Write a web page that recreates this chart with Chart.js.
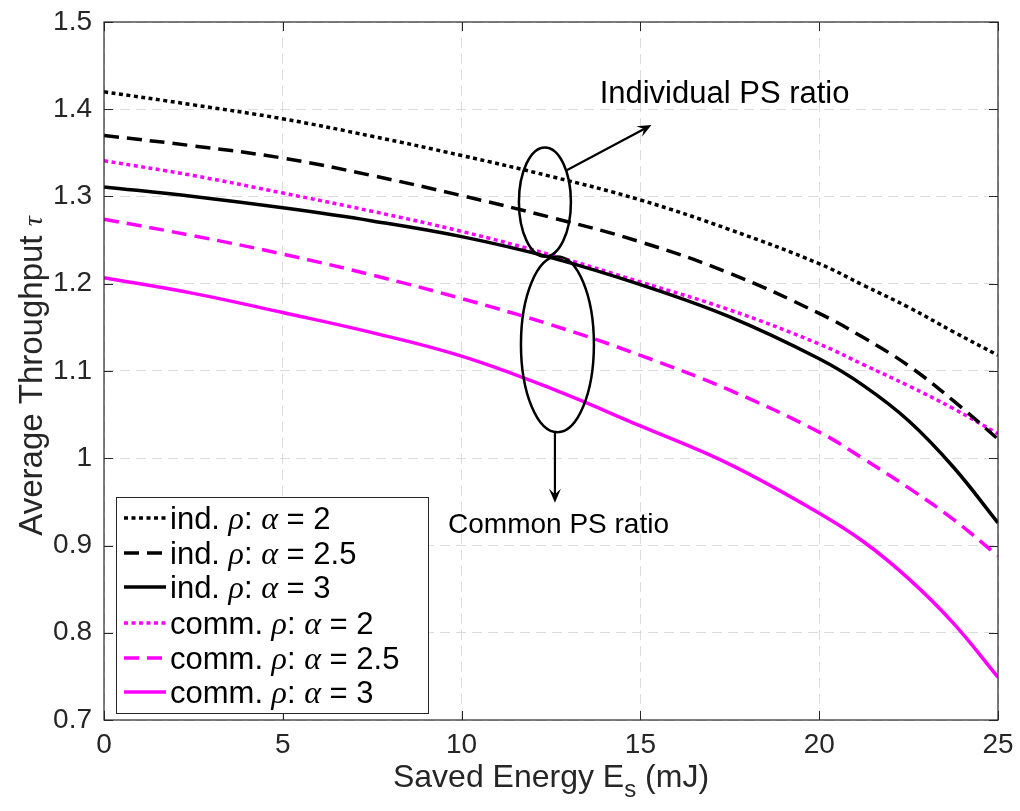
<!DOCTYPE html>
<html>
<head>
<meta charset="utf-8">
<script src="https://cdn.jsdelivr.net/npm/chart.js@4.4.0/dist/chart.umd.min.js"></script>
<style>
  html, body { margin: 0; padding: 0; background: #fff; }
  #wrap { width: 1020px; height: 811px; }
</style>
</head>
<body>
<div id="wrap"><canvas id="tputChart" width="1020" height="811"></canvas></div>
<script>
// saved energy (mJ) sample points
const energy = [0, 2.5, 5, 7.5, 10, 12.5, 15, 17.5, 20, 21.25, 22.5, 23.75, 25];

// individual PS ratio
const indA2   = [1.420, 1.405, 1.389, 1.369, 1.347, 1.323, 1.296, 1.262, 1.223, 1.198, 1.173, 1.145, 1.118];
const indA25  = [1.370, 1.358, 1.344, 1.324, 1.301, 1.276, 1.248, 1.212, 1.166, 1.138, 1.106, 1.066, 1.022];
const indA3   = [1.311, 1.300, 1.287, 1.272, 1.254, 1.230, 1.199, 1.162, 1.114, 1.083, 1.043, 0.990, 0.926];
// common PS ratio
const commA2  = [1.341, 1.324, 1.304, 1.283, 1.260, 1.233, 1.202, 1.170, 1.131, 1.107, 1.083, 1.057, 1.028];
const commA25 = [1.274, 1.255, 1.234, 1.210, 1.183, 1.153, 1.118, 1.078, 1.030, 0.999, 0.966, 0.930, 0.888];
const commA3  = [1.207, 1.189, 1.167, 1.144, 1.117, 1.080, 1.037, 0.993, 0.937, 0.904, 0.862, 0.811, 0.749];

const xTicks = [0, 5, 10, 15, 20, 25];
const yTicks = [0.7, 0.8, 0.9, 1.0, 1.1, 1.2, 1.3, 1.4, 1.5];

const SANS = '"Liberation Sans", Arial, Helvetica, sans-serif';
const SERIF = '"Liberation Serif", "DejaVu Serif", serif';
const MAGENTA = '#ff00ff';
const DOT = [4, 3.5];
const DASH = [15, 8];

function pts(ys) {
  return energy.map((x, i) => ({ x: x, y: ys[i] }));
}

function series(label, ys, color, dash, alpha) {
  return {
    label: label,
    alpha: alpha,
    data: pts(ys),
    borderColor: color,
    backgroundColor: color,
    borderWidth: 3.5,
    borderDash: dash,
    borderCapStyle: 'butt',
    pointRadius: 0,
    fill: false,
    tension: 0.4
  };
}

const datasets = [
  series('ind.', indA2, '#000', DOT, '2'),
  series('ind.', indA25, '#000', DASH, '2.5'),
  series('ind.', indA3, '#000', [], '3'),
  series('comm.', commA2, MAGENTA, DOT, '2'),
  series('comm.', commA25, MAGENTA, DASH, '2.5'),
  series('comm.', commA3, MAGENTA, [], '3')
];

// draw a run of differently styled text pieces; returns total width
function richText(ctx, parts, x, y, align) {
  let total = 0;
  parts.forEach(p => { ctx.font = p.font; total += ctx.measureText(p.t).width; });
  let cx = align === 'center' ? x - total / 2 : x;
  ctx.textBaseline = 'alphabetic';
  ctx.textAlign = 'left';
  parts.forEach(p => {
    ctx.font = p.font;
    ctx.fillText(p.t, cx, y + (p.dy || 0));
    cx += ctx.measureText(p.t).width;
  });
  return total;
}

function arrow(ctx, x1, y1, x2, y2) {
  const ang = Math.atan2(y2 - y1, x2 - x1);
  const L = 14, W = 6;
  ctx.beginPath();
  ctx.moveTo(x1, y1);
  ctx.lineTo(x2 - Math.cos(ang) * L * 0.6, y2 - Math.sin(ang) * L * 0.6);
  ctx.stroke();
  ctx.beginPath();
  ctx.moveTo(x2, y2);
  ctx.lineTo(x2 - L * Math.cos(ang) + W * Math.sin(ang), y2 - L * Math.sin(ang) - W * Math.cos(ang));
  ctx.lineTo(x2 - L * 0.6 * Math.cos(ang), y2 - L * 0.6 * Math.sin(ang));
  ctx.lineTo(x2 - L * Math.cos(ang) - W * Math.sin(ang), y2 - L * Math.sin(ang) + W * Math.cos(ang));
  ctx.closePath();
  ctx.fill();
}

const figureDecor = {
  id: 'figureDecor',
  beforeDatasetsDraw(chart) {
    const ctx = chart.ctx;
    const a = chart.chartArea;
    const xs = chart.scales.x, ys = chart.scales.y;
    ctx.save();
    // inward tick marks on all four sides
    ctx.strokeStyle = '#262626';
    ctx.lineWidth = 1;
    ctx.setLineDash([]);
    const tl = 9;
    xTicks.forEach(v => {
      const px = Math.round(xs.getPixelForValue(v)) + 0.5;
      ctx.beginPath();
      ctx.moveTo(px, a.bottom); ctx.lineTo(px, a.bottom - tl);
      ctx.moveTo(px, a.top); ctx.lineTo(px, a.top + tl);
      ctx.stroke();
    });
    yTicks.forEach(v => {
      const py = Math.round(ys.getPixelForValue(v)) + 0.5;
      ctx.beginPath();
      ctx.moveTo(a.left, py); ctx.lineTo(a.left + tl, py);
      ctx.moveTo(a.right, py); ctx.lineTo(a.right - tl, py);
      ctx.stroke();
    });
    ctx.restore();
  },
  afterDatasetsDraw(chart) {
    const ctx = chart.ctx;
    const a = chart.chartArea;
    const xs = chart.scales.x, ys = chart.scales.y;
    const X = v => xs.getPixelForValue(v);
    const Y = v => ys.getPixelForValue(v);
    ctx.save();

    // axes box
    ctx.strokeStyle = '#262626';
    ctx.lineWidth = 1.2;
    ctx.setLineDash([]);
    ctx.strokeRect(a.left, a.top, a.right - a.left, a.bottom - a.top);

    // grouping ellipses and arrows
    ctx.strokeStyle = '#000';
    ctx.fillStyle = '#000';
    ctx.lineWidth = 2.5;
    ctx.beginPath();
    ctx.ellipse(X(12.33), Y(1.2937), X(12.33 + 0.727) - X(12.33), Y(1.2937) - Y(1.2937 + 0.0626), 0, 0, Math.PI * 2);
    ctx.stroke();
    ctx.beginPath();
    ctx.ellipse(X(12.68), Y(1.1305), X(12.68 + 1.02) - X(12.68), Y(1.1305) - Y(1.1305 + 0.1006), 0, 0, Math.PI * 2);
    ctx.stroke();
    ctx.lineWidth = 2.2;
    arrow(ctx, X(12.94), Y(1.330), X(15.31), Y(1.382));
    arrow(ctx, X(12.61), Y(1.030), X(12.61), Y(0.949));

    richText(ctx, [{ t: 'Individual PS ratio', font: '31px ' + SANS }], X(13.86), Y(1.416) + 8, 'left');
    richText(ctx, [{ t: 'Common PS ratio', font: '28px ' + SANS }], X(9.62), Y(0.926) + 10, 'left');

    // legend
    const lx = 116, ly = 497, lw = 312, lh = 216;
    ctx.fillStyle = '#fff';
    ctx.fillRect(lx, ly, lw, lh);
    ctx.strokeStyle = '#262626';
    ctx.lineWidth = 1;
    ctx.strokeRect(lx + 0.5, ly + 0.5, lw, lh);
    const rowY = [518, 553, 587, 623, 658, 692];
    chart.data.datasets.forEach((ds, i) => {
      const cy = rowY[i];
      ctx.strokeStyle = ds.borderColor;
      ctx.lineWidth = 3.5;
      ctx.lineCap = 'butt';
      ctx.setLineDash(ds.borderDash);
      ctx.beginPath();
      ctx.moveTo(124, cy); ctx.lineTo(166, cy);
      ctx.stroke();
      ctx.setLineDash([]);
      ctx.fillStyle = '#000';
      richText(ctx, [
        { t: ds.label + ' ', font: '31px ' + SANS },
        { t: 'ρ', font: 'italic 32px ' + SERIF },
        { t: ': ', font: '31px ' + SANS },
        { t: 'α', font: 'italic 32px ' + SERIF },
        { t: ' = ' + ds.alpha, font: '31px ' + SANS }
      ], 170, cy + 11, 'left');
    });

    // axis titles
    ctx.fillStyle = '#262626';
    richText(ctx, [
      { t: 'Saved Energy E', font: '32px ' + SANS },
      { t: 's', font: '24px ' + SANS, dy: 10 },
      { t: ' (mJ)', font: '32px ' + SANS }
    ], (a.left + a.right) / 2, 787, 'center');

    ctx.translate(42, (a.top + a.bottom) / 2 + 5);
    ctx.rotate(-Math.PI / 2);
    richText(ctx, [
      { t: 'Average Throughput ', font: '33px ' + SANS },
      { t: 'τ', font: 'italic 28px ' + SERIF }
    ], 0, 0, 'center');
    ctx.restore();
  }
};

const ctxEl = document.getElementById('tputChart');

new Chart(ctxEl, {
  type: 'line',
  data: { datasets: datasets },
  options: {
    responsive: false,
    animation: false,
    events: [],
    layout: { padding: { left: 0, right: 22, top: 22, bottom: 0 } },
    plugins: { legend: { display: false }, tooltip: { enabled: false } },
    scales: {
      x: {
        type: 'linear',
        min: 0,
        max: 25,
        afterFit(s) { s.height = 91; s.paddingLeft = 0; s.paddingRight = 0; },
        afterBuildTicks(s) { s.ticks = xTicks.map(v => ({ value: v })); },
        ticks: {
          color: '#262626',
          font: { family: SANS, size: 28 },
          padding: 8,
          maxRotation: 0
        },
        grid: { color: '#dcdcdc', lineWidth: 1, drawTicks: false },
        border: { display: false, dash: [10, 6] }
      },
      y: {
        type: 'linear',
        min: 0.7,
        max: 1.5,
        afterFit(s) { s.width = 104; s.paddingTop = 0; s.paddingBottom = 0; },
        afterBuildTicks(s) { s.ticks = yTicks.map(v => ({ value: v })); },
        ticks: {
          color: '#262626',
          font: { family: SANS, size: 28 },
          padding: 12,
          callback: v => String(Number(v.toFixed(1)))
        },
        grid: { color: '#dcdcdc', lineWidth: 1, drawTicks: false },
        border: { display: false, dash: [10, 6] }
      }
    }
  },
  plugins: [figureDecor]
});
</script>
</body>
</html>
